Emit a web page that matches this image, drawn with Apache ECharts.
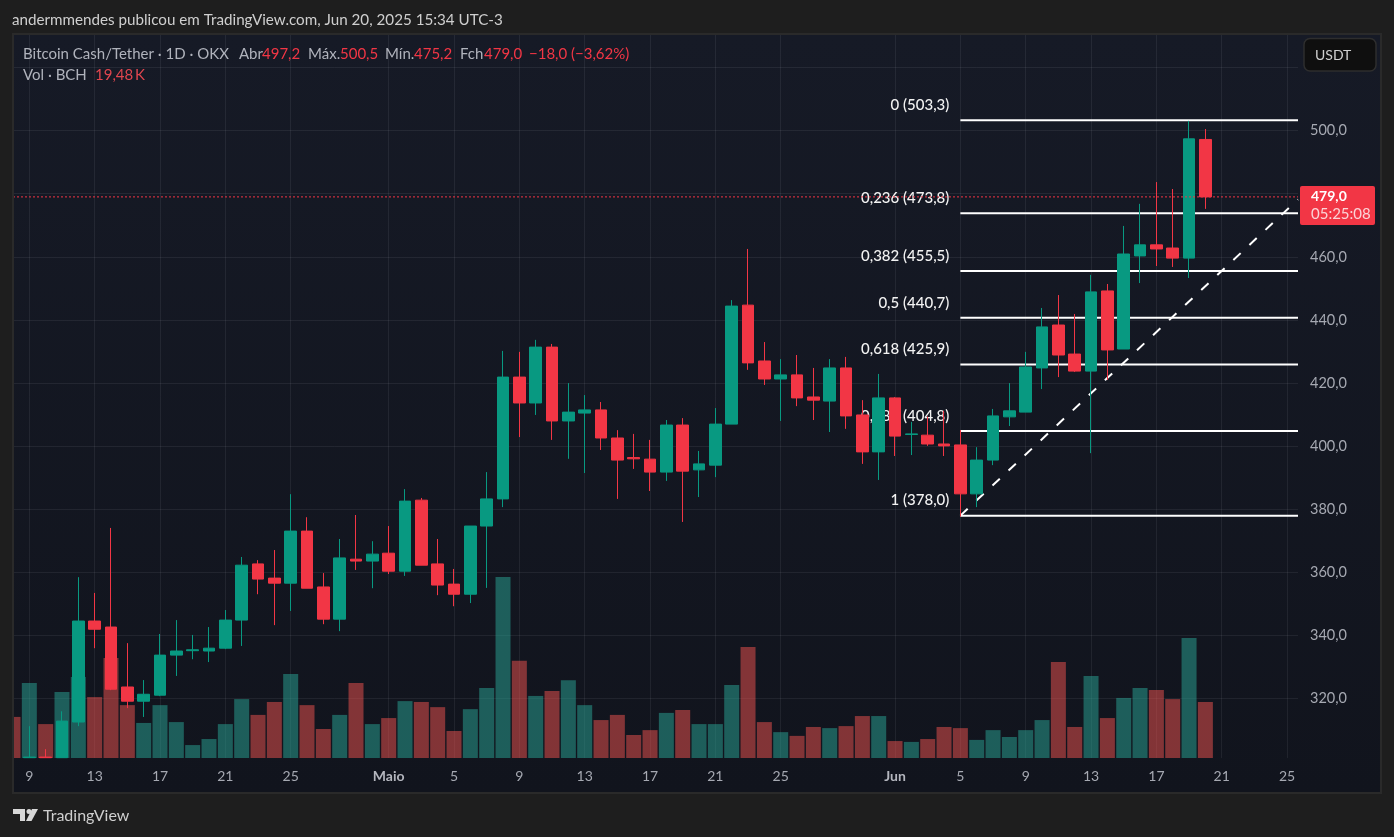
<!DOCTYPE html>
<html>
<head>
<meta charset="utf-8">
<title>BCH/USDT</title>
<script src="https://cdn.jsdelivr.net/npm/echarts@6/dist/echarts.min.js"></script>
<style>
  html, body {margin: 0; padding: 0; background: #1e1e1e;}
  #chart {width: 1394px; height: 837px;}
</style>
</head>
<body>
<div id="chart"></div>
<script>
// one entry per day, starting on Apr 8 (index 0) and ending on Jun 20
const opens = [
  299.0, 301.3, 301.5, 301.3, 312.6, 344.6, 342.7, 323.7, 319.2, 321.1, 333.8, 335.2, 335.1, 336.0, 344.9, 362.7,
  358.2, 356.6, 373.1, 355.4, 345.2, 364.2, 363.6, 366.1, 360.4, 382.9, 362.7, 356.3, 353.1,
  374.7, 383.3, 421.9, 413.7, 431.4, 408.0, 410.5, 411.5, 402.6, 396.4, 395.9, 391.8, 406.7, 392.5, 394.0, 407.0,
  444.7, 427.0, 421.3, 422.6, 415.6, 414.3, 424.8, 409.9, 398.2,
  415.3, 403.7, 403.5, 400.7, 400.4, 384.9, 395.6, 409.3, 410.8, 424.8, 438.4, 429.2, 423.8, 449.2, 430.8,
  460.3, 463.8, 462.8, 459.6, 497.2
];
const closes = [
  298.0, 301.5, 301.3, 312.9, 344.6, 342.0, 323.0, 319.2, 321.4, 333.8, 335.1, 335.5, 336.0, 344.9, 362.3, 357.9,
  356.6, 373.1, 355.0, 345.2, 364.6, 363.6, 365.8, 360.4, 382.6, 362.3, 356.0, 353.1, 374.7,
  383.3, 421.9, 413.7, 431.4, 408.0, 410.8, 411.5, 402.6, 395.6, 396.0, 391.8, 406.7, 392.1, 394.4, 407.0, 444.4,
  426.4, 421.3, 422.6, 415.3, 414.6, 424.8, 409.6, 398.2, 415.3,
  403.2, 403.9, 400.7, 400.1, 384.9, 395.6, 409.6, 411.2, 425.1, 437.8, 428.9, 423.8, 448.9, 430.5, 460.9,
  463.8, 462.5, 459.6, 497.4, 479.0
];
const lows = [
  297.0, 301.3, 301.3, 301.3, 311.3, 336.0, 322.7, 317.0, 314.2, 320.8, 327.2, 332.5, 331.6, 335.7, 336.7, 353.1,
  343.3, 347.8, 355.0, 343.6, 341.4, 360.8, 355.0, 359.5, 358.9, 362.3, 352.8, 349.3, 350.3,
  355.1, 380.7, 402.9, 409.9, 402.0, 396.0, 391.5, 398.8, 383.3, 392.8, 385.8, 389.0, 376.0, 383.9, 390.2, 407.0,
  424.2, 419.4, 408.0, 412.7, 408.3, 404.5, 405.5, 394.4, 389.3,
  396.9, 397.2, 400.1, 396.9, 377.7, 380.7, 394.0, 406.4, 410.8, 418.1, 421.9, 423.5, 397.8, 421.0, 430.8,
  451.7, 457.1, 456.8, 453.3, 475.2
];
const highs = [
  300.0, 311.3, 304.0, 316.0, 358.5, 353.5, 374.1, 337.6, 325.9, 340.5, 344.9, 340.2, 342.7, 348.1, 364.9, 363.9,
  367.1, 384.8, 377.5, 359.8, 370.6, 378.2, 369.9, 374.7, 386.4, 383.6, 370.6, 361.1, 374.7,
  391.8, 430.2, 429.9, 433.7, 432.4, 420.0, 416.2, 414.0, 405.1, 403.9, 402.0, 408.3, 408.9, 398.5, 412.1, 446.3,
  462.5, 433.0, 427.6, 428.9, 424.8, 427.6, 428.3, 414.6, 422.9,
  415.6, 407.7, 409.4, 411.2, 405.1, 399.7, 411.8, 420.0, 429.9, 443.8, 447.9, 441.9, 454.3, 451.4, 469.8,
  476.8, 483.7, 481.5, 503.1, 500.5
];
// volume in thousands of BCH
const volumes = [
  14.3, 26.1, 11.8, 23.0, 28.2, 21.2, 34.8, 18.4, 12.2, 18.4, 12.5, 4.5, 6.6, 11.8, 20.5, 15.0,
  19.5, 29.2, 18.4, 10.1, 15.0, 26.1, 11.8, 13.9, 19.8, 19.5, 17.7, 9.4, 17.0,
  24.4, 63.0, 33.8, 21.6, 23.3, 27.1, 18.4, 13.2, 15.0, 8.0, 9.7, 15.7, 16.7, 11.8, 11.8, 25.4,
  38.6, 12.5, 9.0, 7.7, 10.8, 10.4, 11.1, 14.6, 14.6,
  5.9, 5.6, 6.6, 10.8, 10.4, 6.3, 9.7, 7.3, 9.7, 13.2, 33.4, 10.8, 28.5, 13.9, 20.9,
  24.4, 23.7, 20.5, 41.8, 19.48
];
const xTickDays = [1, 5, 9, 13, 17, 23, 27, 31, 35, 39, 43, 47, 54, 58, 62, 66, 70, 74, 78];
const xTickLabels = ['9', '13', '17', '21', '25', 'Maio', '5', '9', '13', '17', '21', '25', 'Jun', '5', '9', '13', '17', '21', '25'];
const yGridTicks = [320, 340, 360, 380, 400, 420, 440, 460, 480, 500, 520];
const yLabelTicks = [320, 340, 360, 380, 400, 420, 440, 460, 500];
const fibLevels = ['0', '0,236', '0,382', '0,5', '0,618', '0,786', '1'];
const fibPrices = [503.3, 473.8, 455.5, 440.7, 425.9, 404.8, 378.0];
const fibStartDay = 58;
const trendEndPrice = 478.2;
const lastPrice = 479.0;

const UP = '#089981';
const DOWN = '#f23645';
const FONT = 'Lato, "Noto Sans", sans-serif';
const AXIS_TEXT = '#a6a9b2';
const LEGEND_TEXT = '#b0b3bc';
const GRID = 'rgba(240,243,250,0.07)';
const X_MAX = 78.67;
const VOL_MAX = 251.6;
const LAST = opens.length - 1;

const comma = (v, d = 1) => v.toFixed(d).replace('.', ',');

const candleData = opens.map((o, i) => [i, o, closes[i], lows[i], highs[i]]);
const volumeData = volumes.map((v, i) => ({
  value: [i, v],
  itemStyle: {color: closes[i] >= opens[i] ? 'rgba(41,167,152,0.5)' : 'rgba(243,83,80,0.5)'}
}));

const fibSeries = fibPrices.map((price, i) => ({
  type: 'line',
  z: 1,
  silent: true,
  showSymbol: true,
  symbol: 'circle',
  symbolSize: 0.1,
  lineStyle: {color: '#ffffff', width: 2},
  data: [
    {
      value: [fibStartDay, price],
      label: {
        show: true,
        position: 'left',
        distance: 11,
        offset: [0, -15],
        color: '#f2f2f2',
        fontFamily: FONT,
        fontSize: 15,
        fontWeight: 500,
        formatter: fibLevels[i] + ' (' + comma(price) + ')'
      }
    },
    [X_MAX, price]
  ]
}));

// one text piece of the legend lines
const legendText = (x, y, text, fill) => ({
  type: 'text', z: 20, silent: true, x, y,
  style: {text, fill, font: '15px ' + FONT, verticalAlign: 'middle'}
});

const chart = echarts.init(document.getElementById('chart'));
chart.setOption({
  animation: false,
  backgroundColor: '#1e1e1e',
  grid: {left: 13, top: 35, width: 1285, height: 723, show: false},
  xAxis: {
    type: 'value',
    min: 0,
    max: X_MAX,
    axisLine: {show: false},
    axisTick: {show: false, customValues: xTickDays},
    splitLine: {show: true, lineStyle: {color: GRID, width: 1}},
    axisLabel: {
      customValues: xTickDays,
      color: AXIS_TEXT,
      fontFamily: FONT,
      fontSize: 14,
      margin: 11,
      formatter: (v) => {
        const label = xTickLabels[xTickDays.indexOf(v)];
        return label === 'Maio' || label === 'Jun' ? '{m|' + label + '}' : label;
      },
      rich: {m: {color: '#b4b6be', fontFamily: FONT, fontSize: 14, fontWeight: 'bold'}}
    }
  },
  yAxis: [
    {
      type: 'value',
      position: 'right',
      min: 301.2,
      max: 530.3,
      axisLine: {show: false},
      axisTick: {show: false, customValues: yGridTicks},
      splitLine: {show: true, lineStyle: {color: GRID, width: 1}},
      axisLabel: {
        customValues: yLabelTicks,
        color: AXIS_TEXT,
        fontFamily: FONT,
        fontSize: 14.5,
        margin: 12,
        padding: [0, 0, 2, 0],
        formatter: (v) => comma(v)
      }
    },
    {type: 'value', min: 0, max: VOL_MAX, show: false, splitLine: {show: false}}
  ],
  graphic: [
    // chart pane behind everything
    {
      type: 'rect', z: -10, silent: true,
      shape: {x: 13, y: 34, width: 1368, height: 759},
      style: {
        fill: new echarts.graphic.LinearGradient(0, 0, 0, 1, [
          {offset: 0, color: '#161a26'},
          {offset: 1, color: '#11141d'}
        ])
      }
    },
    // the first bar sticks out of the pane, hide that part
    {type: 'rect', z: 10, silent: true, shape: {x: 0, y: 35, width: 13, height: 723}, style: {fill: '#1e1e1e'}},
    {
      type: 'rect', z: 11, silent: true,
      shape: {x: 13, y: 34, width: 1368, height: 759},
      style: {fill: 'none', stroke: '#2a2a2a', lineWidth: 2}
    },
    {
      type: 'text', z: 20, silent: true, x: 12, y: 20,
      style: {
        text: 'andermmendes publicou em TradingView.com, Jun 20, 2025 15:34 UTC-3',
        fill: '#cfcfcf', font: '15.2px ' + FONT, verticalAlign: 'middle'
      }
    },
    legendText(23, 54, 'Bitcoin Cash/Tether · 1D · OKX', LEGEND_TEXT),
    legendText(239, 54, 'Abr', LEGEND_TEXT),
    legendText(262, 54, comma(opens[LAST]), DOWN),
    legendText(308, 54, 'Máx.', LEGEND_TEXT),
    legendText(340, 54, comma(highs[LAST]), DOWN),
    legendText(385, 54, 'Mín.', LEGEND_TEXT),
    legendText(414, 54, comma(lows[LAST]), DOWN),
    legendText(460, 54, 'Fch', LEGEND_TEXT),
    legendText(484, 54, comma(closes[LAST]), DOWN),
    legendText(529, 54, '−18,0 (−3,62%)', DOWN),
    legendText(23, 75, 'Vol · BCH', LEGEND_TEXT),
    legendText(95, 75, comma(volumes[LAST], 2) + '\u2009K', '#e0464f'),
    // currency button
    {
      type: 'rect', z: 20, silent: true,
      shape: {x: 1304, y: 38.5, width: 72, height: 32.5, r: 6},
      style: {fill: '#0f0f0f', stroke: '#2e2e2e', lineWidth: 1.5}
    },
    {
      type: 'text', z: 21, silent: true, x: 1315, y: 55,
      style: {text: 'USDT', fill: '#d0d0d0', font: '14px ' + FONT, verticalAlign: 'middle'}
    },
    // last price tag
    {
      type: 'rect', z: 20, silent: true,
      shape: {x: 1300, y: 186, width: 75, height: 39, r: 2},
      style: {fill: DOWN}
    },
    {
      type: 'text', z: 21, silent: true, x: 1311, y: 196,
      style: {text: comma(lastPrice), fill: '#ffffff', font: 'bold 14px ' + FONT, verticalAlign: 'middle'}
    },
    {
      type: 'text', z: 21, silent: true, x: 1311, y: 214,
      style: {text: '05:25:08', fill: '#fbd3d6', font: '15px ' + FONT, verticalAlign: 'middle'}
    },
    // TradingView mark
    {
      type: 'polygon', z: 20, silent: true,
      shape: {points: [[13, 809], [25, 809], [25, 821], [20, 821], [20, 814], [13, 814]]},
      style: {fill: '#d8d8d8'}
    },
    {type: 'circle', z: 20, silent: true, shape: {cx: 29, cy: 811.5, r: 2.5}, style: {fill: '#d8d8d8'}},
    {
      type: 'polygon', z: 20, silent: true,
      shape: {points: [[32, 809], [38, 809], [31.5, 821], [26, 821]]},
      style: {fill: '#d8d8d8'}
    },
    {
      type: 'text', z: 20, silent: true, x: 43, y: 815.5,
      style: {text: 'TradingView', fill: '#cfcfcf', font: '16px ' + FONT, verticalAlign: 'middle'}
    }
  ],
  series: [
    {
      type: 'bar',
      yAxisIndex: 1,
      z: 0,
      barWidth: 15,
      silent: true,
      data: volumeData
    },
    ...fibSeries,
    {
      type: 'line',
      z: 1,
      silent: true,
      symbol: 'none',
      lineStyle: {color: '#ffffff', width: 2, type: [10, 12]},
      data: [[fibStartDay, fibPrices[6]], [X_MAX, trendEndPrice]]
    },
    {
      type: 'candlestick',
      z: 5,
      silent: true,
      barWidth: 12,
      encode: {x: 0, y: [1, 2, 3, 4]},
      itemStyle: {color: UP, color0: DOWN, borderColor: UP, borderColor0: DOWN, borderWidth: 1},
      data: candleData
    },
    {
      type: 'line',
      z: 6,
      silent: true,
      symbol: 'none',
      lineStyle: {color: DOWN, width: 1, type: [2, 2]},
      data: [[0, lastPrice], [X_MAX, lastPrice]]
    }
  ]
});
</script>
</body>
</html>
